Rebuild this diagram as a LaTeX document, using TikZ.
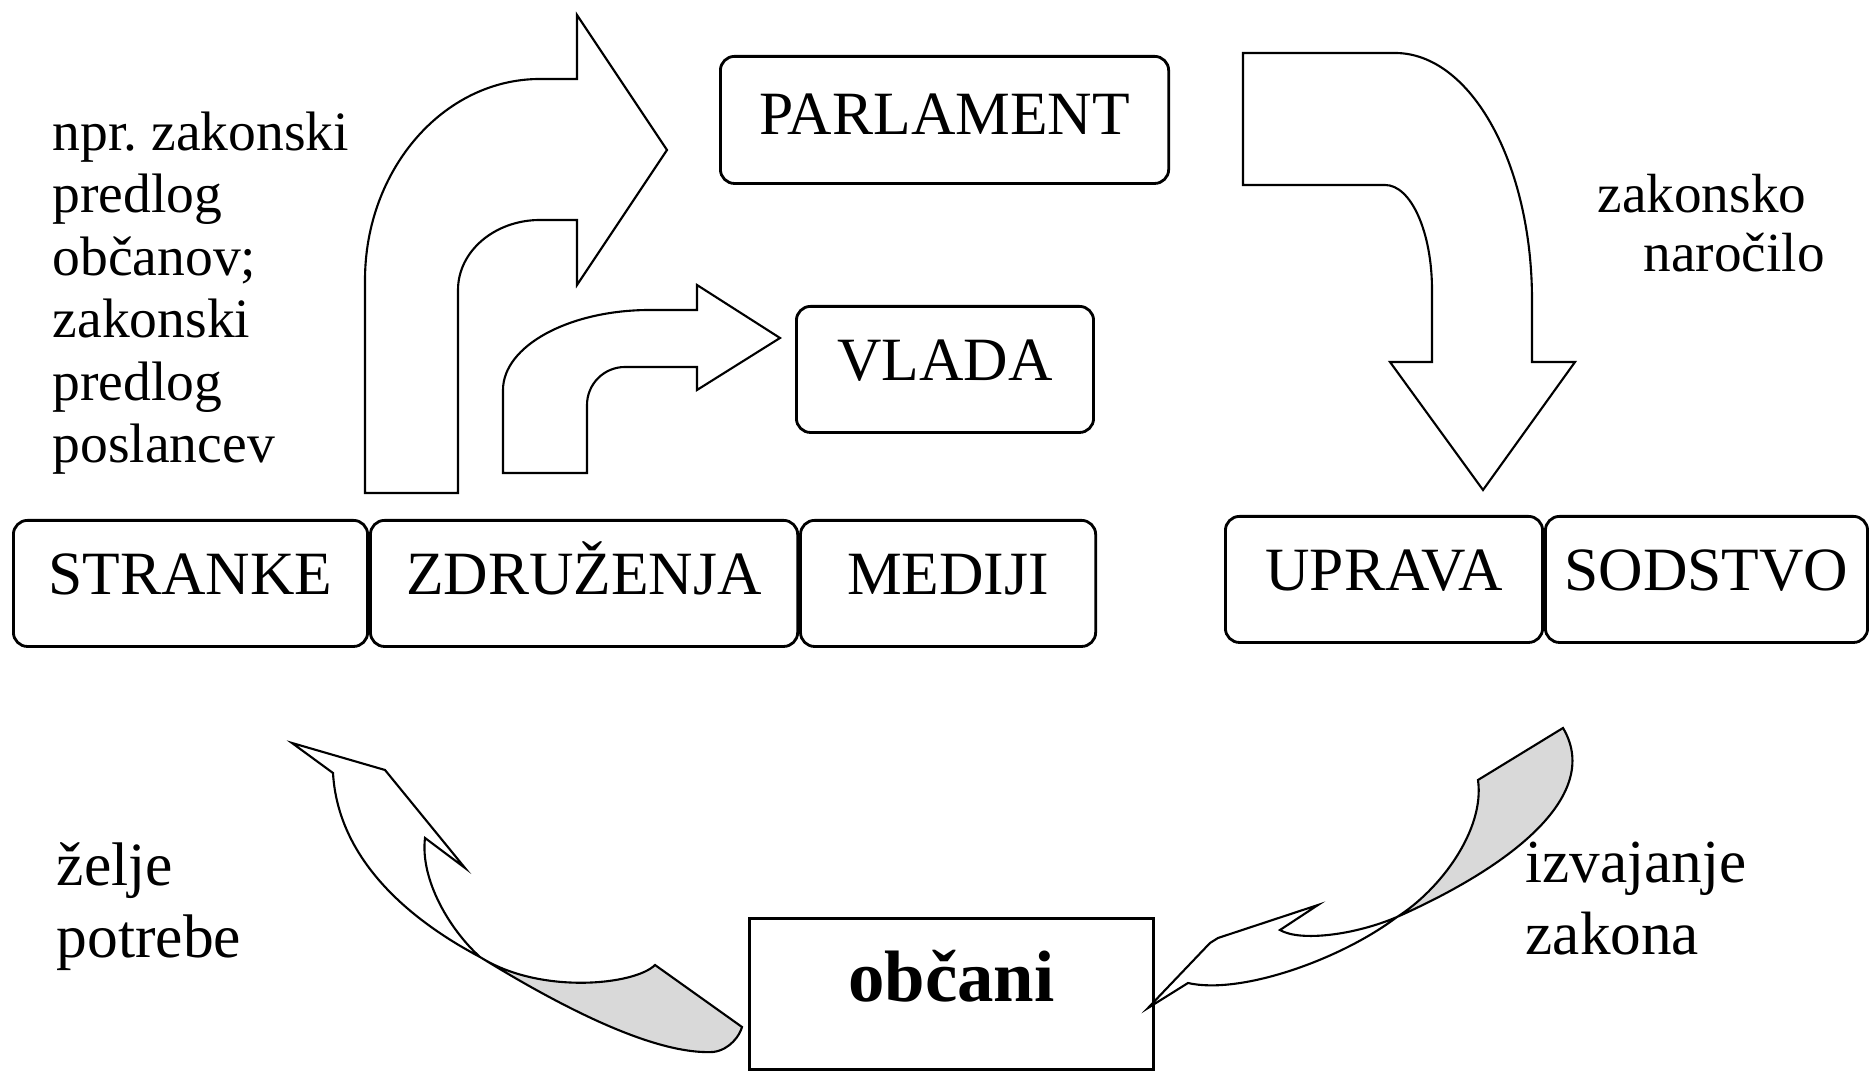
\documentclass[tikz,border=0pt]{standalone}
\usepackage{fontspec}
\setmainfont{Liberation Serif}
\usetikzlibrary{positioning}

\tikzset{
  box/.style={draw, rounded corners=4pt, line width=0.8pt, inner sep=0pt,
    text height=0.74cm, text depth=0.52cm, font=\fontsize{17.5}{21}\selectfont},
  blockarrow/.style={draw, fill=white, line width=0.6pt},
  twist/.style={fill=black!15},
  note/.style={inner sep=0pt, align=left, anchor=base west},
}

\begin{document}
\begin{tikzpicture}[x=0.01cm, y=-0.01cm]
        \useasboundingbox[fill=white] (0,0) rectangle (1869,1071);

        % block arrows
        \draw[blockarrow] (365,493) -- (365,280) .. controls (365,170) and (443,79) .. (540,79)
                -- (577,79) -- (577,15) -- (667,150) -- (577,285) -- (577,220) -- (540,220)
                .. controls (495,220) and (458,251) .. (458,290) -- (458,493) -- cycle;
        \draw[blockarrow] (503,473) -- (503,390) .. controls (503,346) and (569,310) .. (650,310)
                -- (697,310) -- (697,285) -- (780,338) -- (697,390) -- (697,367) -- (625,367)
                .. controls (604,367) and (587,384) .. (587,405) -- (587,473) -- cycle;
        \draw[blockarrow] (1243,53) -- (1395,53) .. controls (1471,53) and (1532,164) .. (1532,300)
                -- (1532,362) -- (1575,362) -- (1483,490) -- (1390,362) -- (1432,362) -- (1432,290)
                .. controls (1432,232) and (1411,185) .. (1385,185) -- (1243,185) -- cycle;

        % boxes
        \node[box, anchor=north west, minimum width=4.48cm, text height=0.78cm, text depth=0.49cm]
                (parlament) at (719,55) {PARLAMENT};
        \node[box, anchor=north west, minimum width=2.97cm] (vlada) at (795,305) {VLADA};
        \node[box, anchor=north west, minimum width=3.54cm] (stranke) at (12,519) {STRANKE};
        \node[box, right=0pt of stranke, minimum width=4.27cm] (zdruzenja) {ZDRUŽENJA};
        \node[box, right=0pt of zdruzenja, minimum width=2.95cm] (mediji) {MEDIJI\hspace{0.45cm}};
        \node[box, anchor=north west, minimum width=3.17cm] (uprava) at (1224,515) {UPRAVA};
        \node[box, right=0pt of uprava, minimum width=3.22cm] (sodstvo) {SODSTVO};
        \node[draw, line width=0.8pt, inner sep=0pt, anchor=north west, minimum width=4.04cm,
                text height=0.83cm, text depth=0.68cm, font=\fontsize{20.7}{24}\selectfont\bfseries]
                (obcani) at (748,917) {občani};

        % twisted arrows
        \fill[twist] (480,957) .. controls (550,1000) and (650,1055) .. (713,1052)
                .. controls (730,1050) and (740,1035) .. (742,1027) -- (655,965)
                .. controls (635,985) and (540,995) .. (480,957) -- cycle;
        \draw[line width=0.6pt] (292,743) -- (333,773) .. controls (338,860) and (410,920) .. (480,957)
                .. controls (550,1000) and (650,1055) .. (713,1052)
                .. controls (730,1050) and (740,1035) .. (742,1027) -- (655,965)
                .. controls (635,985) and (540,995) .. (480,957)
                .. controls (450,930) and (420,880) .. (425,838) -- (465,868) -- (385,770) -- cycle;
        \fill[twist] (1397,917) .. controls (1440,890) and (1485,830) .. (1478,780) -- (1563,728)
                .. controls (1600,790) and (1525,860) .. (1397,917) -- cycle;
        \draw[line width=0.6pt] (1148,1008) -- (1210,943) -- (1218,938) -- (1318,905) -- (1280,930)
                .. controls (1300,942) and (1355,935) .. (1397,917)
                .. controls (1440,890) and (1485,830) .. (1478,780) -- (1563,728)
                .. controls (1600,790) and (1525,860) .. (1397,917)
                .. controls (1340,960) and (1240,995) .. (1188,983) -- cycle;

        % labels
        \node[note, font=\fontsize{15.8}{17.8}\selectfont] (predlogi) at (52,463)
                {npr.\ zakonski\\predlog\\občanov;\\zakonski\\predlog\\poslancev};
        \node[note, font=\fontsize{15.7}{18}\selectfont] (zakonsko) at (1597,213) {zakonsko};
        \node[note, font=\fontsize{15.7}{18}\selectfont] (narocilo) at (1643,272) {naročilo};
        \node[note, font=\fontsize{17.5}{20.7}\selectfont] (zelje) at (56,958) {želje\\potrebe};
        \node[note, font=\fontsize{17.4}{20.5}\selectfont] (izvajanje) at (1525,955) {izvajanje\\zakona};
\end{tikzpicture}
\end{document}
